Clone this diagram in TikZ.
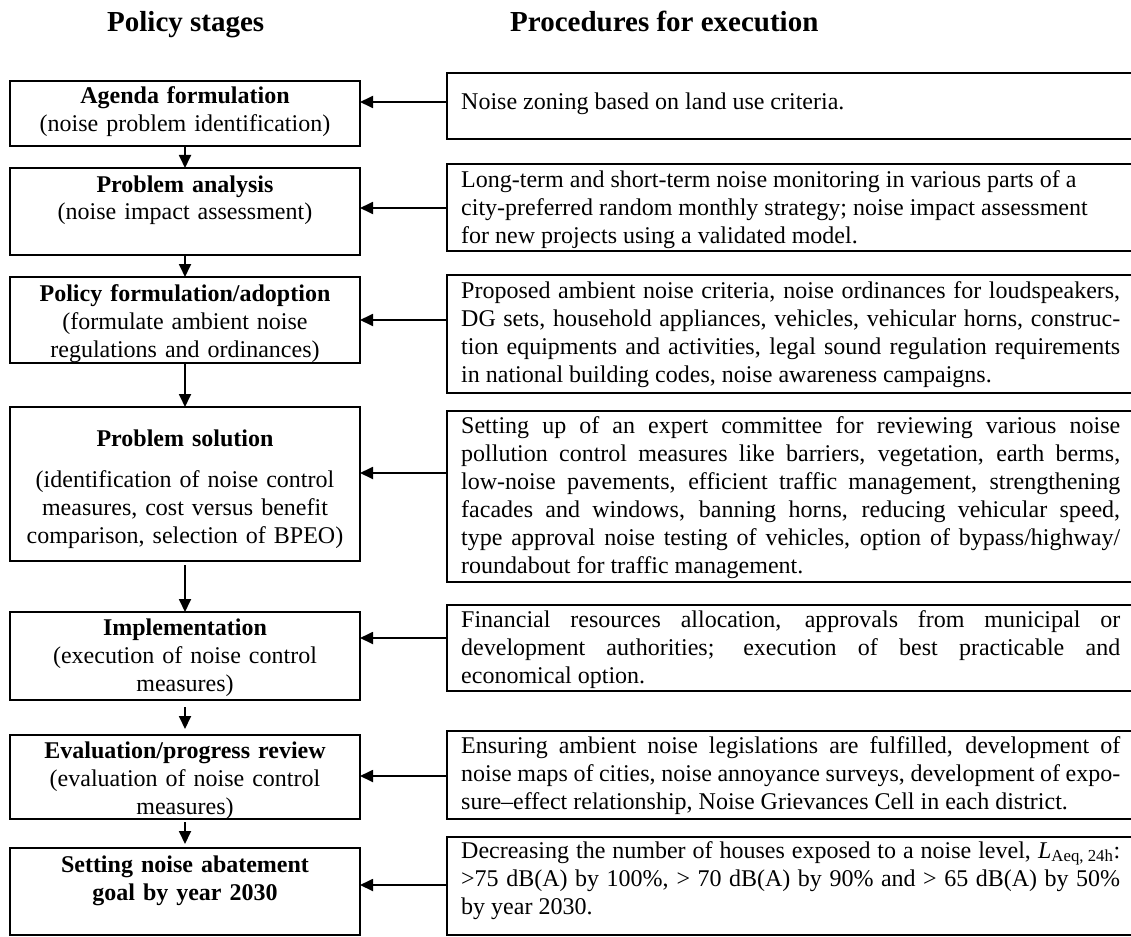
\documentclass[tikz,border=0pt]{standalone}
\usepackage{fontspec}
\setmainfont{Liberation Serif}
\usetikzlibrary{arrows.meta}
\tikzset{
  lbox/.style={draw, line width=1.8pt, minimum width=350pt, anchor=north west, inner sep=0pt, outer sep=0pt},
  rbox/.style={draw, line width=1.8pt, minimum width=690pt, anchor=north west, inner sep=0pt, outer sep=0pt},
  ltext/.style={text width=345pt, align=center, anchor=base, inner sep=0pt, font=\fontsize{24}{28}\selectfont},
  rtext/.style={text width=659pt, align=justify, anchor=base west, inner sep=0pt, font=\fontsize{24}{28}\selectfont},
  head/.style={anchor=base west, inner sep=0pt, font=\fontsize{29}{34}\selectfont\bfseries},
  arr/.style={line width=1.8pt, -{Triangle[length=13pt,width=12pt]}},
}
\begin{document}
\begin{tikzpicture}[x=1pt,y=-1pt]
\path[use as bounding box, clip] (0,0) rectangle (1131,936);
\hyphenpenalty=10000
\tolerance=9999
% headers
\node[head] (h1) at (107,32) {Policy stages};
\node[head] (h2) at (510,32) {Procedures for execution};
% left boxes
\node[lbox, minimum height=65pt] (l1) at (10,81) {};
\node[lbox, minimum height=87pt] (l2) at (10,168) {};
\node[lbox, minimum height=86pt] (l3) at (10,277) {};
\node[lbox, minimum height=154pt] (l4) at (10,407) {};
\node[lbox, minimum height=88pt] (l5) at (10,612) {};
\node[lbox, minimum height=84pt] (l6) at (10,735) {};
\node[lbox, minimum height=87pt] (l7) at (10,848) {};
% left texts
\node[ltext] (t1) at (185,104) {\textbf{Agenda formulation}\\(noise problem identification)};
\node[ltext] (t2) at (185,192) {\textbf{Problem analysis}\\(noise impact assessment)};
\node[ltext] (t3) at (185,301) {\textbf{Policy formulation/adoption}\\(formulate ambient noise\\regulations and ordinances)};
\node[ltext] (t4) at (185,446) {\textbf{Problem solution}\\[13pt](identification of noise control\\measures, cost versus benefit\\comparison, selection of BPEO)};
\node[ltext] (t5) at (185,635) {\textbf{Implementation}\\(execution of noise control\\measures)};
\node[ltext] (t6) at (185,758) {\textbf{Evaluation/progress review}\\(evaluation of noise control\\measures)};
\node[ltext] (t7) at (185,872) {\textbf{Setting noise abatement}\\\textbf{goal by year 2030}};
% right boxes
\node[rbox, minimum height=66pt] (r1) at (447,73) {};
\node[rbox, minimum height=87pt] (r2) at (447,164) {};
\node[rbox, minimum height=118pt] (r3) at (447,275) {};
\node[rbox, minimum height=171pt] (r4) at (447,411) {};
\node[rbox, minimum height=86pt] (r5) at (447,605) {};
\node[rbox, minimum height=88pt] (r6) at (447,731) {};
\node[rbox, minimum height=98pt] (r7) at (447,837) {};
% right texts
\node[rtext] (s1) at (461,110) {Noise zoning based on land use criteria.};
\node[rtext] (s2) at (461,187) {Long-term and short-term noise monitoring in various parts of a\newline city-preferred random monthly strategy; noise impact assessment\newline for new projects using a validated model.};
\node[rtext] (s3) at (461,298) {Proposed ambient noise criteria, noise ordinances for loudspeakers,\linebreak DG sets, household appliances, vehicles, vehicular horns, construc-\linebreak tion equipments and activities, legal sound regulation requirements\linebreak in national building codes, noise awareness campaigns.};
\node[rtext] (s4) at (461,433) {Setting up of an expert committee for reviewing various noise\linebreak pollution control measures like barriers, vegetation, earth berms,\linebreak low-noise pavements, efficient traffic management, strengthening\linebreak facades and windows, banning horns, reducing vehicular speed,\linebreak type approval noise testing of vehicles, option of bypass/highway/\linebreak roundabout for traffic management.};
\node[rtext] (s5) at (461,627) {Financial resources allocation, approvals from municipal or\linebreak development authorities; execution of best practicable and\linebreak economical option.};
\node[rtext] (s6) at (461,753) {Ensuring ambient noise legislations are fulfilled, development of\linebreak noise maps of cities, noise annoyance surveys, development of expo-\linebreak sure--effect relationship, Noise Grievances Cell in each district.};
\node[rtext] (s7) at (461,858) {Decreasing the number of houses exposed to a noise level, \textit{L}\textsubscript{Aeq, 24h}:\linebreak >75 dB(A) by 100\%, > 70 dB(A) by 90\% and > 65 dB(A) by 50\%\linebreak by year 2030.};
% vertical arrows
\draw[arr] (l1.south) -- (l2.north);
\draw[arr] (l2.south) -- (l3.north);
\draw[arr] (l3.south) -- (l4.north);
\draw[arr, shorten <=4pt] (l4.south) -- (l5.north);
\draw[arr, shorten <=7pt, shorten >=6pt] (l5.south) -- (l6.north);
\draw[arr, shorten <=3pt, shorten >=4pt] (l6.south) -- (l7.north);
% horizontal arrows
\draw[arr] (r1.west |- 0,102) -- (l1.east |- 0,102);
\draw[arr] (r2.west |- 0,208) -- (l2.east |- 0,208);
\draw[arr] (r3.west |- 0,320) -- (l3.east |- 0,320);
\draw[arr] (r4.west |- 0,473) -- (l4.east |- 0,473);
\draw[arr] (r5.west |- 0,638) -- (l5.east |- 0,638);
\draw[arr] (r6.west |- 0,776) -- (l6.east |- 0,776);
\draw[arr] (r7.west |- 0,885) -- (l7.east |- 0,885);
\end{tikzpicture}
\end{document}
